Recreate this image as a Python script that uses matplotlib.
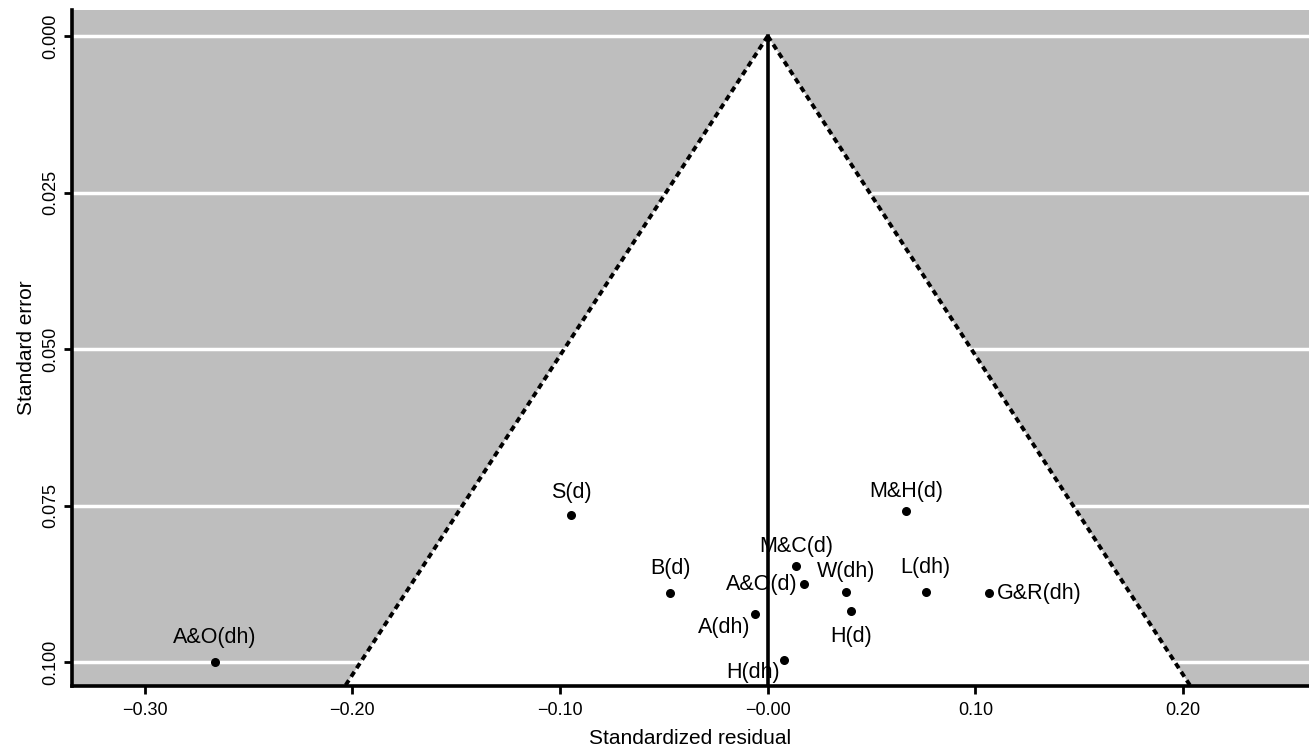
import numpy as np
import matplotlib
matplotlib.use("Agg")
import matplotlib.pyplot as plt

plt.rcParams['font.family'] = ['Liberation Sans', 'DejaVu Sans']

# study labels with standardized residual and standard error
studies = ["S(d)", "M&H(d)", "M&C(d)", "B(d)", "A&O(d)", "W(dh)",
           "L(dh)", "G&R(dh)", "A(dh)", "H(d)", "H(dh)", "A&O(dh)"]
residual = [-0.0947, 0.0668, 0.0138, -0.0470, 0.0175, 0.0378,
            0.0760, 0.1067, -0.0061, 0.0399, 0.0080, -0.2663]
std_error = [0.0765, 0.0759, 0.0847, 0.0889, 0.0876, 0.0888,
             0.0888, 0.0890, 0.0924, 0.0919, 0.0996, 0.1000]

x_ticks = [-0.30, -0.20, -0.10, 0.00, 0.10, 0.20]
x_tick_labels = ["\u22120.30", "\u22120.20", "\u22120.10", "\u22120.00", "0.10", "0.20"]
y_ticks = [0.000, 0.025, 0.050, 0.075, 0.100]

# label placement (pixel offsets, alignment)
label_pos = {
    "S(d)": (0, 22, "center"),
    "M&H(d)": (0, 20, "center"),
    "M&C(d)": (0, 20, "center"),
    "B(d)": (0, 24, "center"),
    "A&O(d)": (-7, 0, "right"),
    "W(dh)": (0, 20, "center"),
    "L(dh)": (0, 24, "center"),
    "G&R(dh)": (8, 0, "left"),
    "A(dh)": (-5, -13, "right"),
    "H(d)": (0, -25, "center"),
    "H(dh)": (-4, -13, "right"),
    "A&O(dh)": (0, 25, "center"),
}

se_max = 0.1038
fig = plt.figure(figsize=(13.09, 7.52), dpi=100)
ax = fig.add_axes([0.055, 0.088, 0.945, 0.899])
ax.set_facecolor('#bebebe')

ax.set_xlim(-0.335, 0.2606)
ax.set_ylim(se_max, -0.0042)

# white grid lines at the y ticks
for yt in y_ticks:
    ax.axhline(yt, color='white', lw=2.5, zorder=1)

# pseudo confidence region
se_line = np.array([0.0, se_max])
tri_x = [-1.96 * se_max, 0.0, 1.96 * se_max]
tri_y = [se_max, 0.0, se_max]
ax.fill(tri_x, tri_y, color='white', zorder=2, lw=0)
ax.plot(-1.96 * se_line, se_line, color='black', lw=2.8,
        linestyle=(0, (1.5, 1.1)), zorder=3)
ax.plot(1.96 * se_line, se_line, color='black', lw=2.8,
        linestyle=(0, (1.5, 1.1)), zorder=3)
ax.plot([0, 0], [0, se_max], color='black', lw=2.6, zorder=3)

ax.scatter(residual, std_error, s=30, color='black', zorder=4)
for name, xv, yv in zip(studies, residual, std_error):
    dx, dy, ha = label_pos[name]
    ax.annotate(name, (xv, yv), xytext=(dx, dy), textcoords='offset pixels',
                ha=ha, va='center', fontsize=15.5, zorder=5)

ax.set_xticks(x_ticks)
ax.set_xticklabels(x_tick_labels, fontsize=13)
ax.set_yticks(y_ticks)
ax.set_yticklabels([f"{v:.3f}" for v in y_ticks], fontsize=13,
                   rotation=90, va='center')
ax.tick_params(axis='x', direction='out', length=6, width=2, color='black', pad=6)
ax.tick_params(axis='y', direction='out', length=6, width=2, color='black', pad=3)

for side in ['top', 'right']:
    ax.spines[side].set_visible(False)
for side in ['left', 'bottom']:
    ax.spines[side].set_linewidth(2.6)
    ax.spines[side].set_color('black')

ax.set_xlabel("Standardized residual", fontsize=15, labelpad=7)
ax.set_ylabel("Standard error", fontsize=15, labelpad=5)

fig.savefig("out.png", dpi=100)
